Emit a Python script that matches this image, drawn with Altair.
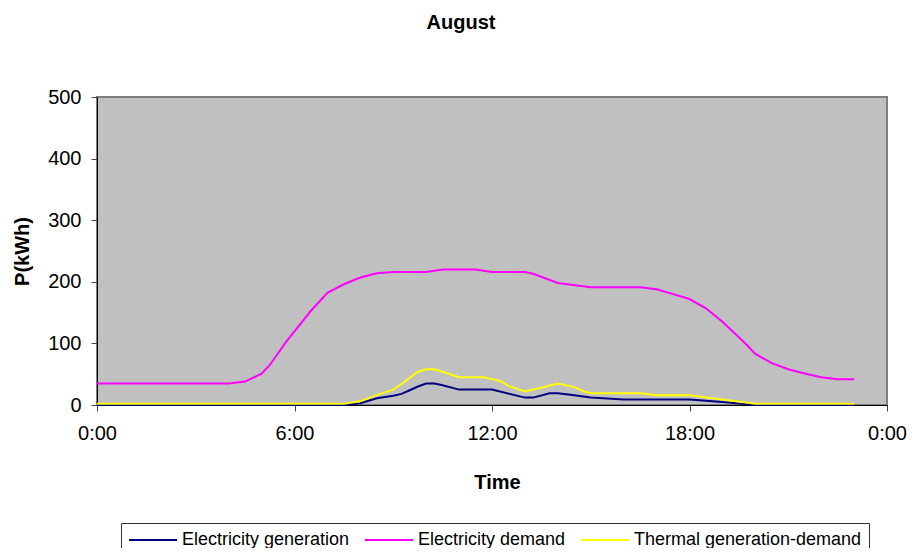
import altair as alt
import pandas as pd

series_names = ["Electricity generation", "Electricity demand", "Thermal generation-demand"]
series_colors = ["#000080", "#FF00FF", "#FFFF00"]

hours_gen = [0, 7.5, 8, 8.5, 9, 9.25, 9.5, 9.75, 10, 10.25, 10.5, 11, 12, 13, 13.25, 13.75, 14, 14.5, 15, 16, 18, 19, 20, 23]
gen = [0, 0, 3, 11, 15, 18, 24, 30, 35, 35, 32, 25, 25, 12, 12, 19, 19, 16, 12, 9, 9, 5, 0, 0]

hours_dem = [0, 4, 4.5, 5, 5.25, 5.75, 6.5, 7, 7.5, 8, 8.5, 9, 10, 10.5, 11.5, 12, 13, 13.25, 14, 15,
             16.5, 17, 17.5, 18, 18.5, 19, 19.5, 19.75, 20, 20.5, 21, 21.5, 22, 22.5, 23]
dem = [35, 35, 38, 51, 65, 103, 153, 182, 196, 207, 214, 216, 216, 220, 220, 216, 216, 213, 198, 191,
       191, 188, 180, 172, 157, 135, 110, 97, 83, 68, 58, 51, 45, 42, 42]

hours_th = [0, 7.5, 8, 8.5, 9, 9.25, 9.75, 10, 10.25, 10.5, 11, 11.75, 12, 12.25, 12.5, 13, 13.5, 14,
            14.5, 14.8, 15, 16.5, 17, 18, 19, 20, 23]
th = [2, 2, 6, 16, 25, 34, 54, 58, 58, 54, 45, 45, 42, 39, 31, 22, 28, 35,
      29, 22, 19, 19, 16, 16, 9, 2, 2]

x_ticks = [0, 6, 12, 18, 24]
y_ticks = [0, 100, 200, 300, 400, 500]

frames = []
for name, hs, vs in zip(series_names, [hours_gen, hours_dem, hours_th], [gen, dem, th]):
    frames.append(pd.DataFrame({"hour": hs, "value": vs, "series": name}))
df = pd.concat(frames, ignore_index=True)

FONT = "Liberation Sans"

chart = alt.Chart(df).mark_line(strokeWidth=2).encode(
    x=alt.X("hour:Q",
            scale=alt.Scale(domain=[0, 24], nice=False),
            axis=alt.Axis(values=x_ticks, labelExpr="(datum.value % 24) + ':00'",
                          title="Time", grid=False, tickSize=6, labelPadding=12,
                          labelFlush=False, labelOverlap=False,
                          titleX=400, titleY=77, titleAlign="center", titleBaseline="middle")),
    y=alt.Y("value:Q",
            scale=alt.Scale(domain=[0, 500], nice=False),
            axis=alt.Axis(values=y_ticks, title="P(kWh)", grid=False, tickSize=6, labelPadding=10,
                          labelFlush=False, labelOverlap=False,
                          titleX=-75, titleY=154, titleAlign="center", titleBaseline="middle")),
    color=alt.Color("series:N",
                    scale=alt.Scale(domain=series_names, range=series_colors),
                    sort=series_names,
                    legend=alt.Legend(title=None, orient="none", legendX=24, legendY=426,
                                      direction="horizontal", columns=3,
                                      symbolType="M-2.67,0H2.67", symbolSize=324, symbolStrokeWidth=2,
                                      symbolOffset=15,
                                      labelFont=FONT, labelFontSize=18, labelColor="black",
                                      labelOffset=19, columnPadding=10, padding=7,
                                      strokeColor="#333333", fillColor="white", labelLimit=500)),
).properties(
    width=790,
    height=308,
    title=alt.Title("August", font=FONT, fontSize=20, fontWeight="bold", color="black",
                    anchor="middle", frame="group", dx=-31, offset=54),
    autosize=alt.AutoSizeParams(type="none"),
    padding={"left": 89, "top": 89, "right": 21, "bottom": 143},
).configure_view(
    fill="#C0C0C0", stroke="#808080", strokeWidth=2
).configure_axis(
    labelFont=FONT, labelFontSize=20, labelColor="black",
    titleFont=FONT, titleFontSize=20, titleFontWeight="bold", titleColor="black",
    domainColor="black", domainWidth=1, tickColor="#444444"
)

chart.save("out.html", embed_options={"renderer": "svg", "actions": False})
